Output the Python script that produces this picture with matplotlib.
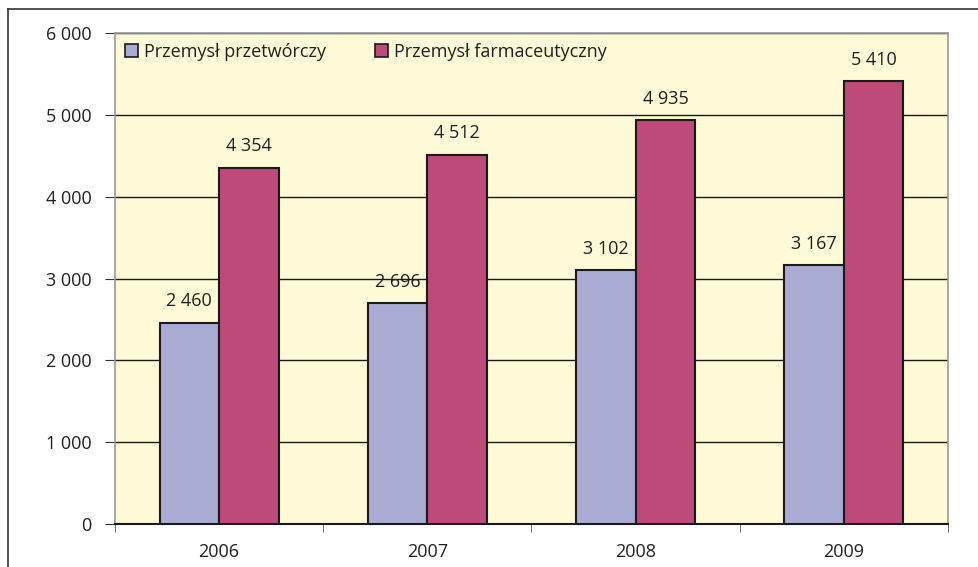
import numpy as np
import matplotlib.pyplot as plt
from matplotlib.lines import Line2D
from matplotlib.patches import Patch

years = ['2006', '2007', '2008', '2009']
przetworczy = [2460, 2696, 3102, 3167]
farmaceutyczny = [4354, 4512, 4935, 5410]
series_names = ['Przemysł przetwórczy', 'Przemysł farmaceutyczny']
yticks = [0, 1000, 2000, 3000, 4000, 5000, 6000]

c1 = '#aaabd3'
c2 = '#bd4a79'
txt = '#231f20'
fs = 13

plt.rcParams['font.family'] = ['Open Sans', 'DejaVu Sans']

def fmt(v):
    return '{:,}'.format(v).replace(',', ' ')

fig = plt.figure(figsize=(9.79, 5.67), dpi=100)
ax = fig.add_axes([115/979, 1-524/567, (948-115)/979, (524-33)/567])
ax.set_facecolor('#fef9d6')

x = np.arange(len(years))
w = 0.286
b1 = ax.bar(x - w/2, przetworczy, w, color=c1, edgecolor='#1a1a1a', linewidth=1.5, zorder=3)
b2 = ax.bar(x + w/2, farmaceutyczny, w, color=c2, edgecolor='#1a1a1a', linewidth=1.5, zorder=3)

for rect, v in list(zip(b1, przetworczy)) + list(zip(b2, farmaceutyczny)):
    ax.text(rect.get_x() + rect.get_width()/2, v + 150, fmt(v), ha='center', va='bottom',
            fontsize=fs, color=txt)

ax.set_xlim(-0.5, len(years) - 0.5)
ax.set_ylim(0, 6000)
ax.set_yticks(yticks)
ax.set_yticklabels([fmt(t) for t in yticks], fontsize=fs, color=txt)
ax.yaxis.grid(True, color='#1a1a1a', linewidth=1.0, zorder=1)
ax.set_axisbelow(True)

ax.set_xticks(x)
ax.set_xticklabels(years, fontsize=fs, color=txt)
ax.tick_params(axis='x', length=0, pad=14)
ax.set_xticks(np.arange(-0.5, len(years), 1.0), minor=True)
ax.tick_params(axis='x', which='minor', length=6, color='#555555')
ax.tick_params(axis='y', length=7, color='#333333', pad=10)

for s in ['top', 'right', 'left']:
    ax.spines[s].set_color('#999999')
    ax.spines[s].set_linewidth(1.2)
ax.spines['bottom'].set_color('#1a1a1a')
ax.spines['bottom'].set_linewidth(1.5)

handles = [Patch(facecolor=c1, edgecolor='#1a1a1a', linewidth=1.2),
           Patch(facecolor=c2, edgecolor='#1a1a1a', linewidth=1.2)]
leg = ax.legend(handles, series_names, loc='upper left', ncol=2, frameon=False,
                fontsize=fs, handlelength=0.75, handleheight=0.75, handletextpad=0.3,
                columnspacing=2.7, borderaxespad=0.2, borderpad=0.35,
                bbox_to_anchor=(0.0, 1.0))
for t in leg.get_texts():
    t.set_color(txt)

# outer frame
fig.add_artist(Line2D([8/979, 8/979], [0, 1-9/567], color='#333333', linewidth=1.2))
fig.add_artist(Line2D([8/979, 1], [1-9/567, 1-9/567], color='#333333', linewidth=1.2))

fig.savefig('out.png', dpi=100)
